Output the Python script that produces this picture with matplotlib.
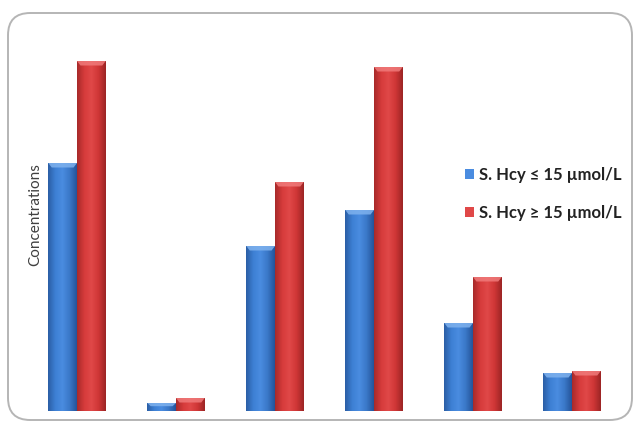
import numpy as np
import matplotlib.pyplot as plt
from matplotlib.patches import FancyBboxPatch, Polygon
from matplotlib.colors import LinearSegmentedColormap

plt.rcParams['font.family'] = ['Lato', 'DejaVu Sans']

# six measured parameters, two patient groups
groups = np.arange(6)
hcy_low = [24.8, 0.8, 16.5, 20.1, 8.8, 3.8]
hcy_high = [35.0, 1.3, 22.9, 34.4, 13.4, 4.0]
series_labels = ['S. Hcy \u2264 15 \u00b5mol/L', 'S. Hcy \u2265 15 \u00b5mol/L']

width = 0.29
blue_cm = LinearSegmentedColormap.from_list('b', ['#2b5ea5', '#3d80d4', '#4a8ce0', '#3a78c8', '#25549a'])
red_cm = LinearSegmentedColormap.from_list('r', ['#a82a2a', '#d63b3b', '#e04848', '#cf3636', '#9c2525'])

fig = plt.figure(figsize=(6.35, 4.22), dpi=100)
fig.patch.set_facecolor('white')

# rounded frame around the chart area
frame = FancyBboxPatch((8 / 635, 1 - 420 / 422), 624 / 635, 407 / 422,
                       boxstyle='round,pad=0,rounding_size=0.035',
                       transform=fig.transFigure, facecolor='none',
                       edgecolor='#b5b5b5', linewidth=1.4, mutation_aspect=635 / 422,
                       zorder=-1)
fig.patches.append(frame)

ax = fig.add_axes([40 / 635, 1 - 411 / 422, 590 / 635, 371 / 422])
ax.set_facecolor('none')

grad = np.linspace(0, 1, 64).reshape(1, -1)


def shaded_bar(x0, h, cmap, top_color, label):
    b = ax.bar(x0, h, width, align='edge', color=cmap(0.5), edgecolor='none', label=label)
    ax.imshow(grad, cmap=cmap, extent=(x0, x0 + width, 0, h), aspect='auto', zorder=2)
    # bevelled cap on top of the bar
    bev = min(0.45, h * 0.4)
    inset = width * 0.12
    cap = Polygon([(x0, h), (x0 + width, h), (x0 + width - inset, h - bev), (x0 + inset, h - bev)],
                  closed=True, facecolor=top_color, edgecolor='none', alpha=0.85, zorder=3)
    ax.add_patch(cap)
    return b


for i in groups:
    shaded_bar(i - width, hcy_low[i], blue_cm, '#7fb2ee', series_labels[0] if i == 0 else None)
    shaded_bar(i, hcy_high[i], red_cm, '#f07a7a', series_labels[1] if i == 0 else None)

ax.set_xlim((40 - 77) / 99, (630 - 77) / 99)
ax.set_ylim(0, 37.1)

for s in ax.spines.values():
    s.set_visible(False)
ax.set_xticks([])
ax.set_yticks([])

ax.set_ylabel('Concentrations', fontsize=11, color='#404040', va='center')
ax.yaxis.set_label_coords((35 - 40) / 590, (411 - 215) / 371)

leg = ax.legend(loc='upper left', bbox_to_anchor=((450 - 40) / 590, (411 - 152) / 371),
                frameon=False, handlelength=0.55, handleheight=0.55, handletextpad=0.3,
                labelspacing=1.3, prop={'weight': 'bold', 'size': 12})
for t in leg.get_texts():
    t.set_color('#222222')

fig.savefig('out.png', dpi=100)
